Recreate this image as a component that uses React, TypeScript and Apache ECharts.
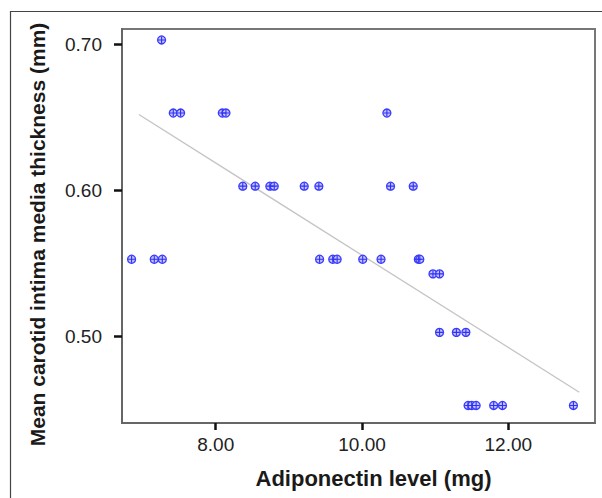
import React, { useEffect, useRef } from "react";
import * as echarts from "echarts";

// Scatter data: adiponectin level (mg) vs mean carotid IMT (mm)
const adiponectin = [
  7.26,
  7.42, 7.52, 8.09, 8.14, 10.34,
  8.37, 8.54, 8.74, 8.80, 9.21, 9.41, 10.39, 10.70,
  6.85, 7.16, 7.27, 9.42, 9.60, 9.66, 10.01, 10.26, 10.77, 10.79,
  10.97, 11.06,
  11.06, 11.29, 11.42,
  11.45, 11.50, 11.56, 11.80, 11.92, 12.89,
];
const imt = [
  0.703,
  0.653, 0.653, 0.653, 0.653, 0.653,
  0.603, 0.603, 0.603, 0.603, 0.603, 0.603, 0.603, 0.603,
  0.553, 0.553, 0.553, 0.553, 0.553, 0.553, 0.553, 0.553, 0.553, 0.553,
  0.543, 0.543,
  0.503, 0.503, 0.503,
  0.453, 0.453, 0.453, 0.453, 0.453, 0.453,
];
// Fit line end points
const fitX = [6.95, 12.97];
const fitY = [0.652, 0.462];
// Tick labels
const xTicks = [8, 10, 12];
const yTicks = [0.5, 0.6, 0.7];

const FONT = "'Liberation Sans', Arial, Helvetica, sans-serif";
const PLUS =
  "path://M4.2,0h1.6v4.2h4.2v1.6h-4.2v4.2h-1.6v-4.2h-4.2v-1.6h4.2z";

export default function App() {
  const ref = useRef<HTMLDivElement>(null);
  useEffect(() => {
    if (!ref.current) return;
    const chart = echarts.init(ref.current, undefined, { renderer: "svg" });
    const points = adiponectin.map((x, i) => [x, imt[i]]);
    chart.setOption({
      animation: false,
      backgroundColor: "#ffffff",
      grid: {
        left: 122,
        top: 29,
        right: 7,
        bottom: 75,
        show: true,
        borderColor: "#777777",
        borderWidth: 2,
        backgroundColor: "transparent",
      },
      xAxis: {
        type: "value",
        min: 6.719,
        max: 13.185,
        splitLine: { show: false },
        axisLine: { show: true, lineStyle: { color: "#666666", width: 2 } },
        axisTick: {
          show: true,
          customValues: xTicks,
          length: 7,
          lineStyle: { color: "#111111", width: 2.5 },
        },
        axisLabel: {
          customValues: xTicks,
          formatter: (v: number) => v.toFixed(2),
          fontFamily: FONT,
          fontSize: 19,
          color: "#222222",
          margin: 12,
        },
      },
      yAxis: {
        type: "value",
        min: 0.441,
        max: 0.7105,
        splitLine: { show: false },
        axisLine: { show: true, lineStyle: { color: "#666666", width: 2 } },
        axisTick: {
          show: true,
          customValues: yTicks,
          length: 8,
          lineStyle: { color: "#111111", width: 2.5 },
        },
        axisLabel: {
          customValues: yTicks,
          formatter: (v: number) => v.toFixed(2),
          fontFamily: FONT,
          fontSize: 19,
          color: "#222222",
          margin: 20,
        },
      },
      graphic: [
        {
          type: "rect",
          silent: true,
          shape: { x: 10.5, y: 11.5, width: 620, height: 520 },
          style: { fill: "none", stroke: "#444444", lineWidth: 1.2 },
        },
        {
          type: "text",
          x: 37,
          y: 234.5,
          rotation: Math.PI / 2,
          style: {
            text: "Mean carotid intima media thickness (mm)",
            fontFamily: FONT,
            fontSize: 21,
            fontWeight: "bold",
            fill: "#1a1a1a",
            textAlign: "center",
            textVerticalAlign: "middle",
          },
        },
        {
          type: "text",
          x: 373.5,
          y: 478,
          style: {
            text: "Adiponectin level (mg)",
            fontFamily: FONT,
            fontSize: 22,
            fontWeight: "bold",
            fill: "#1a1a1a",
            textAlign: "center",
            textVerticalAlign: "middle",
          },
        },
      ],
      series: [
        {
          type: "line",
          data: fitX.map((x, i) => [x, fitY[i]]),
          symbol: "none",
          lineStyle: { color: "#c4c4c4", width: 1.3 },
          silent: true,
          z: 1,
        },
        {
          type: "scatter",
          data: points,
          symbol: "circle",
          symbolSize: 8,
          itemStyle: {
            color: "#c4c4ff",
            borderColor: "#3a3aff",
            borderWidth: 1.3,
            opacity: 1,
          },
          z: 2,
        },
        {
          type: "scatter",
          data: points,
          symbol: PLUS,
          symbolSize: 7,
          itemStyle: { color: "#3030f0", opacity: 1 },
          z: 3,
        },
      ],
    });
    return () => chart.dispose();
  }, []);
  return (
    <div
      ref={ref}
      style={{ position: "fixed", left: 0, top: 0, width: 602, height: 498 }}
    />
  );
}
